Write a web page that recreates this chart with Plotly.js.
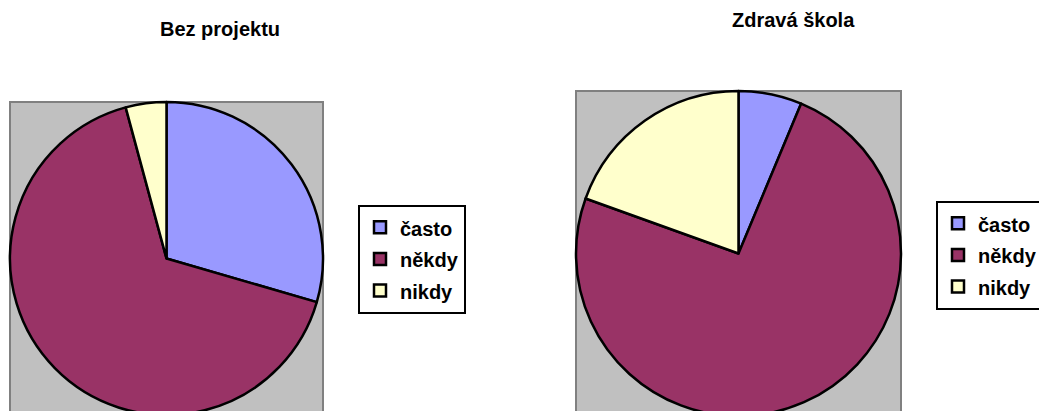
<!DOCTYPE html>
<html>
<head>
<meta charset="utf-8">
<script src="https://cdn.plot.ly/plotly-3.0.1.min.js"></script>
<style>
html, body { margin: 0; padding: 0; width: 1039px; height: 411px; overflow: hidden; background: #fff; position: relative; }
#chartA { position: absolute; left: 0; top: 0; width: 520px; height: 420px; }
#chartB { position: absolute; left: 520px; top: 0; width: 519px; height: 420px; }
</style>
</head>
<body>
<div id="chartA"></div>
<div id="chartB"></div>
<script>
// ---- data ----
var categories = ['často', 'někdy', 'nikdy'];
var titles = ['Bez projektu', 'Zdravá škola'];
var valuesBezProjektu = [29.5, 66.3, 4.2];
var valuesZdravaSkola = [6.3, 74.2, 19.5];
var sliceColors = ['#9999FF', '#993366', '#FFFFCC'];

var FONT = 'Liberation Sans, Arial, Helvetica, sans-serif';
var H = 420;

function legendLabels(cats) {
  return cats.map(function (c) { return '<span style="font-size:20px">' + c + '</span>'; });
}

// cfg: all pixel positions are in page coordinates
function drawChart(divId, offsetX, width, title, values, cfg) {
  function px(x) { return (x - offsetX) / width; }
  function py(y) { return 1 - y / H; }
  var b = cfg.box;
  var trace = {
    type: 'pie',
    labels: legendLabels(categories),
    values: values,
    sort: false,
    direction: 'clockwise',
    rotation: 0,
    textinfo: 'none',
    hoverinfo: 'label+percent',
    marker: { colors: sliceColors, line: { color: '#000000', width: 2.5 } },
    domain: { x: [px(b.x0), px(b.x1)], y: [py(b.y1), py(b.y0)] },
    showlegend: true
  };
  var layout = {
    width: width, height: H,
    margin: { l: 0, r: 0, t: 0, b: 0, pad: 0, autoexpand: false },
    paper_bgcolor: 'rgba(0,0,0,0)',
    font: { family: FONT, color: '#000000' },
    shapes: [{
      type: 'rect', xref: 'paper', yref: 'paper', layer: 'below',
      x0: px(b.x0), x1: px(b.x1), y0: py(b.y1), y1: py(b.y0),
      fillcolor: '#C0C0C0', line: { color: '#808080', width: 2 }
    }],
    annotations: [{
      text: title, xref: 'paper', yref: 'paper',
      x: px(cfg.titleX), y: py(cfg.titleY), xanchor: 'center', yanchor: 'middle',
      showarrow: false, font: { family: FONT, size: 20, color: '#000000', weight: 'bold' }
    }],
    legend: {
      bgcolor: '#FFFFFF', bordercolor: '#000000', borderwidth: 2,
      font: { family: FONT, size: 22, color: '#000000', weight: 'bold' },
      xanchor: 'left', yanchor: 'middle', orientation: 'v',
      x: px(cfg.legendX), y: py(cfg.legendY)
    }
  };
  Plotly.newPlot(divId, [trace], layout, { displayModeBar: false, staticPlot: true });
}

drawChart('chartA', 0, 520, titles[0], valuesBezProjektu, {
  box: { x0: 10, x1: 323, y0: 102, y1: 415 },
  titleX: 220, titleY: 29,
  legendX: 358, legendY: 259
});
drawChart('chartB', 520, 519, titles[1], valuesZdravaSkola, {
  box: { x0: 576, x1: 901, y0: 91, y1: 416 },
  titleX: 793, titleY: 20,
  legendX: 936, legendY: 255
});
</script>
</body>
</html>
